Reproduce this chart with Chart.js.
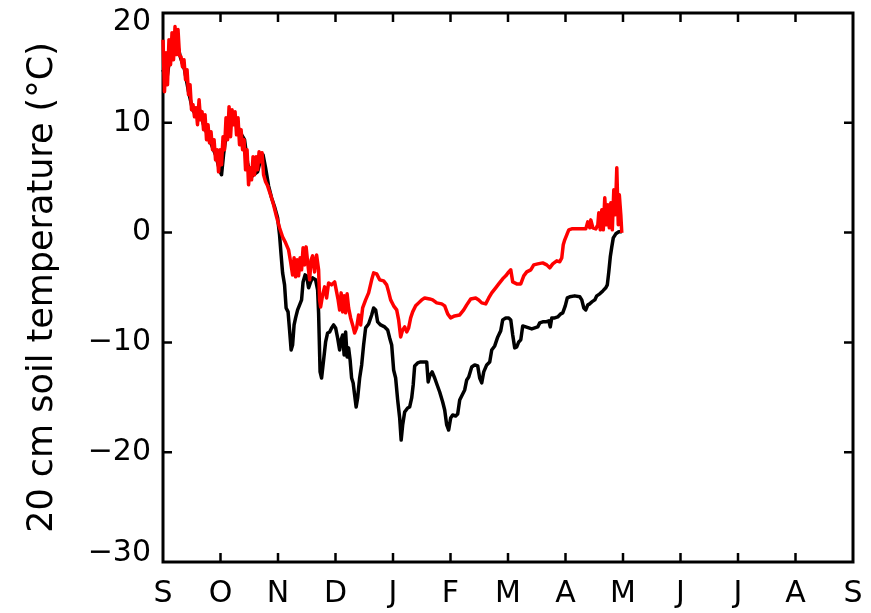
<!DOCTYPE html>
<html>
<head>
<meta charset="utf-8">
<title>20 cm soil temperature</title>
<script src="https://cdn.jsdelivr.net/npm/chart.js@4.4.1/dist/chart.umd.min.js"></script>
<style>
  html, body { margin: 0; padding: 0; background: #ffffff; }
  canvas { display: block; }
</style>
</head>
<body>
<canvas id="soil" width="871" height="613"></canvas>
<script>
// Month initials along the season, 1 September to 1 September
const monthLabels = ['S', 'O', 'N', 'D', 'J', 'F', 'M', 'A', 'M', 'J', 'J', 'A', 'S'];
const tempTicks = [-30, -20, -10, 0, 10, 20];

// Warmer record (red): time in months since 1 September, temperature in °C
const redMonth = [
  0, 0.026, 0.052, 0.078, 0.104, 0.131, 0.157, 0.183, 0.209, 0.235, 0.261, 0.287, 0.313, 0.339,
  0.365, 0.392, 0.418, 0.444, 0.470, 0.496, 0.522, 0.548, 0.574, 0.600, 0.627, 0.653, 0.679, 0.705,
  0.731, 0.757, 0.783, 0.809, 0.835, 0.861, 0.888, 0.914, 0.940, 0.966, 0.992, 1.018, 1.044, 1.070,
  1.096, 1.123, 1.149, 1.175, 1.201, 1.227, 1.253, 1.279, 1.305, 1.331, 1.358, 1.384, 1.410, 1.436,
  1.462, 1.488, 1.514, 1.540, 1.566, 1.592, 1.619, 1.645, 1.671, 1.697, 1.723, 1.749, 1.784, 1.819,
  1.871, 1.923, 1.975, 2.027, 2.079,
  2.132, 2.184, 2.219, 2.254, 2.280, 2.306, 2.332, 2.358, 2.384, 2.410, 2.436, 2.463, 2.489, 2.515,
  2.550, 2.576, 2.602, 2.637, 2.671, 2.706, 2.724, 2.741, 2.776, 2.811, 2.845, 2.880, 2.932, 2.985,
  3.019, 3.046, 3.072, 3.098, 3.124, 3.150, 3.176, 3.202, 3.228, 3.263, 3.298, 3.333, 3.367, 3.402,
  3.437, 3.472, 3.524, 3.576, 3.629, 3.663, 3.716, 3.768, 3.837, 3.890, 3.924, 3.959, 4.011, 4.064,
  4.098, 4.133, 4.168, 4.203, 4.238, 4.272, 4.307, 4.342, 4.394, 4.446, 4.499, 4.551, 4.638, 4.690,
  4.760, 4.847, 4.899, 4.951, 5.003, 5.073, 5.160, 5.230, 5.282, 5.351, 5.438, 5.491, 5.543, 5.612,
  5.665, 5.717, 5.786, 5.839, 5.908, 5.961, 6.013, 6.048, 6.082, 6.152, 6.222, 6.274, 6.326, 6.396,
  6.448, 6.517, 6.604, 6.674, 6.726, 6.778, 6.848, 6.900, 6.935, 6.961, 6.987, 7.022, 7.057, 7.109,
  7.248, 7.353, 7.388, 7.422, 7.440, 7.475, 7.527, 7.562, 7.579, 7.605, 7.631, 7.657, 7.683, 7.709,
  7.736, 7.762, 7.788, 7.814, 7.840, 7.866, 7.892, 7.918, 7.936, 7.962, 7.979
];
const redTemp = [
  17.57, 12.83, 16.39, 13.47, 17.57, 15.29, 18.21, 15.75, 18.76, 16.21, 18.49, 16.11, 16.02, 15.11,
  15.75, 13.93, 14.84, 12.56, 13.47, 11.19, 11.65, 10.55, 11.38, 9.83, 12.10, 10.28, 11.01, 9.37,
  10.74, 8.46, 9.83, 8.18, 9.19, 7.55, 8.46, 6.63, 7.55, 5.54, 7.55, 6.18, 8.73, 7.55,
  10.46, 8.46, 11.47, 8.73, 11.19, 9.83, 11.01, 8.91, 10.46, 8.00, 9.37, 7.55, 8.46, 5.72,
  7.55, 4.36, 5.90, 4.81, 6.91, 5.27, 6.91, 5.72, 7.36, 6.45, 7.27, 5.27, 4.63, 4.26,
  3.44, 2.53, 1.44, 0.44, -0.38,
  -0.93, -1.57, -2.66, -3.85, -2.30, -4.03, -2.48, -3.94, -2.30, -3.39, -1.39, -2.94, -1.30, -2.66,
  -4.30, -2.48, -2.12, -3.58, -2.03, -3.39, -6.13, -6.77, -5.67, -4.94, -5.95, -4.58, -4.76, -4.49,
  -5.40, -6.13, -7.04, -5.49, -7.22, -5.76, -7.31, -5.58, -6.86, -7.77, -8.41, -9.14, -8.68, -7.50,
  -8.41, -6.86, -6.13, -5.49, -4.30, -3.67, -3.76, -4.30, -4.40, -4.76, -5.40, -6.13, -6.67, -7.04,
  -7.95, -9.50, -8.86, -8.59, -9.05, -8.68, -7.77, -7.22, -6.67, -6.40, -6.13, -5.95, -6.04, -6.13,
  -6.40, -6.49, -6.67, -7.40, -7.77, -7.59, -7.50, -7.04, -6.58, -6.04, -5.95, -6.13, -6.40, -6.49,
  -5.95, -5.49, -5.03, -4.67, -4.21, -3.94, -3.58, -3.39, -4.49, -4.67, -4.67, -3.94, -3.58, -3.39,
  -2.94, -2.85, -2.76, -2.94, -3.21, -2.85, -2.57, -2.66, -2.30, -1.11, -0.66, -0.20, 0.25, 0.34,
  0.34, 0.34, 0.98, 0.44, 1.16, 0.44, 0.34, 0.71, 1.80, 0.25, 2.08, 0.25, 3.17, 0.71,
  2.53, 0.44, 2.71, 0.25, 3.90, 1.62, 5.90, 0.71, 3.44, 1.62, -0.02
];

// Colder record (black): time in months since 1 September, temperature in °C
const blackMonth = [
  0, 0.061, 0.113, 0.183, 0.252, 0.305, 0.374, 0.444, 0.514, 0.583, 0.635, 0.705, 0.774, 0.844,
  0.914, 0.983, 1.018, 1.053, 1.105, 1.158, 1.227, 1.297, 1.366, 1.418, 1.471, 1.523, 1.575, 1.645,
  1.697, 1.740, 1.784, 1.836, 1.888, 1.940, 1.993, 2.027, 2.054, 2.080, 2.114, 2.141, 2.175, 2.201,
  2.228, 2.254, 2.280, 2.306, 2.341, 2.376, 2.410, 2.436, 2.471, 2.497, 2.532, 2.567, 2.602, 2.654,
  2.689, 2.706, 2.732, 2.758, 2.793, 2.828, 2.863, 2.898, 2.932, 2.967, 3.002, 3.037, 3.072, 3.098,
  3.124, 3.150, 3.176, 3.202, 3.228, 3.254, 3.280, 3.307, 3.333, 3.359, 3.385, 3.420, 3.455, 3.489,
  3.524, 3.576, 3.629, 3.663, 3.698, 3.733, 3.785, 3.855, 3.907, 3.942, 3.977, 4.011, 4.046, 4.081,
  4.116, 4.142, 4.168, 4.203, 4.255, 4.290, 4.325, 4.351, 4.377, 4.429, 4.481, 4.534, 4.586, 4.612,
  4.638, 4.681, 4.725, 4.768, 4.812, 4.864, 4.899, 4.934, 4.968, 5.003, 5.038, 5.090, 5.125, 5.160,
  5.203, 5.247, 5.282, 5.317, 5.369, 5.421, 5.473, 5.508, 5.543, 5.578, 5.630, 5.682, 5.717, 5.769,
  5.822, 5.873, 5.908, 5.961, 6.013, 6.048, 6.082, 6.117, 6.152, 6.187, 6.222, 6.256, 6.309, 6.361,
  6.413, 6.465, 6.517, 6.552, 6.604, 6.656, 6.709, 6.735, 6.761, 6.813, 6.865, 6.918, 6.952, 6.996,
  7.031, 7.074, 7.161, 7.248, 7.283, 7.318, 7.353, 7.388, 7.422, 7.457, 7.509, 7.544, 7.596, 7.649,
  7.701, 7.727, 7.753, 7.779, 7.805, 7.831, 7.875, 7.927, 7.979
];
const blackTemp = [
  14.84, 13.74, 15.75, 16.84, 17.12, 15.93, 14.84, 12.83, 11.19, 10.65, 11.19, 9.83, 8.91, 8.00,
  7.09, 5.72, 5.27, 7.09, 9.19, 10.10, 10.46, 9.71, 8.91, 8.46, 6.36, 4.99, 5.27, 5.54,
  6.63, 7.09, 5.90, 4.26, 3.17, 2.35, 1.35, -0.20, -2.03, -3.67, -4.76, -6.86, -7.22, -8.86,
  -10.69, -10.23, -8.41, -7.77, -7.04, -6.58, -6.13, -4.49, -3.85, -3.94, -5.03, -4.49, -4.12, -4.30,
  -5.22, -7.31, -12.69, -13.24, -11.60, -9.96, -9.14, -9.05, -8.68, -8.41, -8.68, -9.59, -10.69, -9.77,
  -9.32, -11.14, -9.05, -11.32, -10.50, -11.60, -13.24, -13.69, -14.79, -15.88, -15.06, -13.24, -12.05, -10.23,
  -8.68, -8.32, -7.50, -6.86, -7.04, -8.13, -8.41, -8.59, -8.86, -9.59, -10.23, -12.51, -13.24, -15.24,
  -16.88, -18.89, -17.52, -16.34, -15.97, -15.88, -15.06, -13.88, -12.14, -11.87, -11.78, -11.78, -11.78, -13.60,
  -13.06, -12.69, -13.24, -13.88, -14.52, -15.43, -16.16, -17.52, -17.98, -16.88, -16.61, -16.70, -16.52, -15.24,
  -14.79, -14.33, -13.42, -13.15, -12.24, -12.05, -12.14, -13.24, -13.69, -12.69, -12.05, -11.78, -10.69, -10.32,
  -9.50, -8.95, -7.95, -7.77, -7.77, -7.95, -9.32, -10.50, -10.41, -9.96, -9.77, -8.50, -8.59, -8.68,
  -8.77, -8.68, -8.59, -8.22, -8.13, -8.13, -8.04, -8.59, -7.77, -7.77, -7.68, -7.40, -7.31, -6.67,
  -5.95, -5.85, -5.76, -5.85, -6.13, -6.86, -7.04, -6.58, -6.49, -6.31, -6.13, -5.76, -5.58, -5.31,
  -5.03, -4.76, -3.58, -2.21, -1.30, -0.48, -0.11, 0.07, 0.07
];

const toPoints = (t, v) => t.map((m, i) => ({ x: m, y: v[i] }));

// Plot frame with inward tick marks on all four sides
const framePlugin = {
  id: 'frame',
  beforeDatasetsDraw(chart) {
    const { ctx, chartArea: a, scales: { x, y } } = chart;
    const len = 9;
    ctx.save();
    ctx.strokeStyle = '#000';
    ctx.lineWidth = 3;
    ctx.strokeRect(a.left, a.top, a.right - a.left, a.bottom - a.top);
    ctx.lineWidth = 2.5;
    ctx.beginPath();
    x.ticks.forEach(t => {
      const px = x.getPixelForValue(t.value);
      if (px <= a.left + 1 || px >= a.right - 1) return;
      ctx.moveTo(px, a.bottom); ctx.lineTo(px, a.bottom - len);
      ctx.moveTo(px, a.top); ctx.lineTo(px, a.top + len);
    });
    y.ticks.forEach(t => {
      const py = y.getPixelForValue(t.value);
      if (py <= a.top + 1 || py >= a.bottom - 1) return;
      ctx.moveTo(a.left, py); ctx.lineTo(a.left + len, py);
      ctx.moveTo(a.right, py); ctx.lineTo(a.right - len, py);
    });
    ctx.stroke();
    ctx.restore();
  }
};

const xTickFont = { family: 'DejaVu Sans', size: 30, lineHeight: 0.8 };
const yTickFont = { family: 'DejaVu Sans', size: 30, lineHeight: 0.6 };
const noPadding = s => { s.paddingTop = 0; s.paddingBottom = 0; s.paddingLeft = 0; s.paddingRight = 0; };

// Temperature label; the two end labels sit just inside the frame
const tempLabel = v => {
  const text = v < 0 ? '\u2212' + Math.abs(v) : String(v);
  if (v === tempTicks[tempTicks.length - 1]) return ['', text];
  if (v === tempTicks[0]) return [text, ''];
  return text;
};

new Chart(document.getElementById('soil'), {
  type: 'line',
  data: {
    datasets: [
      {
        data: toPoints(redMonth, redTemp),
        borderColor: '#ff0000',
        borderWidth: 3.5,
        borderJoinStyle: 'round',
        pointRadius: 0,
        tension: 0,
        order: 0,
        clip: false
      },
      {
        data: toPoints(blackMonth, blackTemp),
        borderColor: '#000000',
        borderWidth: 3.5,
        borderJoinStyle: 'round',
        pointRadius: 0,
        tension: 0,
        order: 1,
        clip: false
      }
    ]
  },
  options: {
    responsive: false,
    animation: false,
    devicePixelRatio: 1,
    layout: { padding: { top: 13, right: 18, bottom: 0, left: 0 } },
    plugins: { legend: { display: false }, tooltip: { enabled: false } },
    scales: {
      x: {
        type: 'linear',
        min: 0,
        max: 12,
        afterBuildTicks: s => { s.ticks = monthLabels.map((_, i) => ({ value: i })); },
        afterFit: s => { s.height = 51; noPadding(s); },
        grid: { display: false, drawTicks: false },
        border: { display: false },
        ticks: {
          autoSkip: false,
          maxRotation: 0,
          padding: 20,
          color: '#000',
          font: xTickFont,
          callback: (v, i) => monthLabels[i]
        }
      },
      y: {
        type: 'linear',
        min: -30,
        max: 20,
        afterBuildTicks: s => { s.ticks = tempTicks.map(v => ({ value: v })); },
        afterFit: s => { s.width = 163; noPadding(s); },
        grid: { display: false, drawTicks: false },
        border: { display: false },
        ticks: {
          padding: 12,
          color: '#000',
          font: yTickFont,
          callback: tempLabel
        },
        title: {
          display: true,
          text: '20 cm soil temperature (°C)',
          color: '#000',
          font: { family: 'DejaVu Sans', size: 35 },
          padding: { top: 22, bottom: 0 }
        }
      }
    }
  },
  plugins: [framePlugin]
});
</script>
</body>
</html>
